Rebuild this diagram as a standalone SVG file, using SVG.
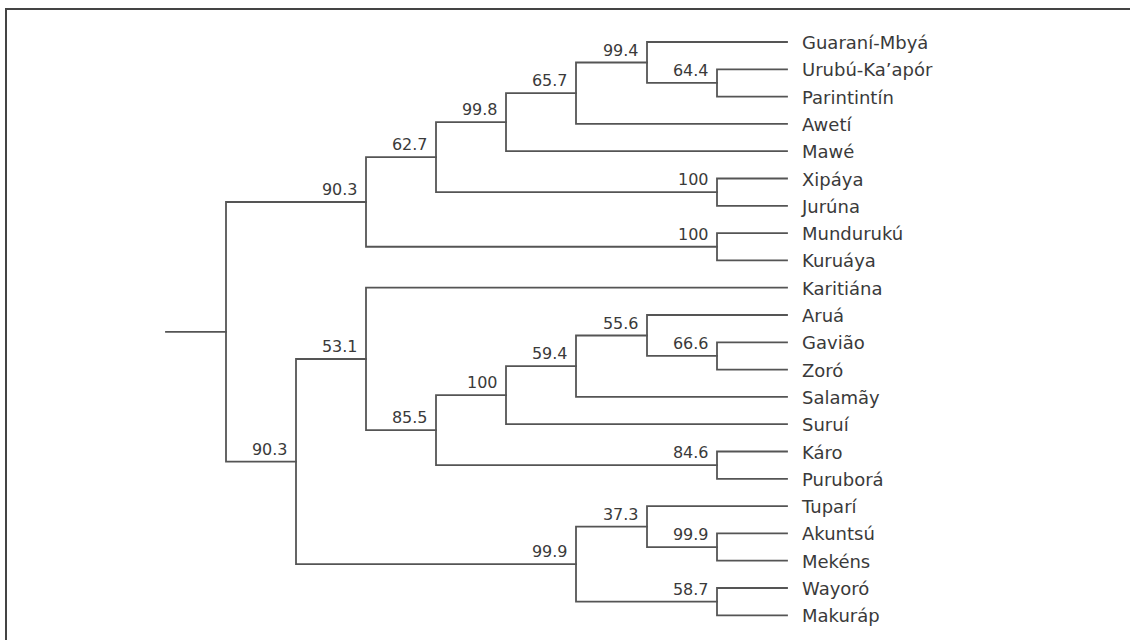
<svg xmlns="http://www.w3.org/2000/svg" width="1130" height="640" viewBox="0 0 1130 640">
<style>
.frame{fill:none;stroke:#444;stroke-width:2}
.br{fill:none;stroke:#555;stroke-width:1.8;stroke-linecap:square}
.lf{font-family:"DejaVu Sans",sans-serif;font-size:18px;fill:#3a3a3a}
.sv{font-family:"DejaVu Sans",sans-serif;font-size:16px;fill:#3a3a3a;text-anchor:end}
</style>
<rect width="1130" height="640" fill="#fff"/>
<path class="frame" d="M6,641 V9 H1131"/>
<g id="connectors">
<path class="br" d="M166,331.8 H226"/>
<path class="br" d="M366,202 H226 V461.55 H296"/>
<path class="br" d="M436,157.2 H366 V246.75 H717"/>
<path class="br" d="M506,122.2 H436 V192.15 H717"/>
<path class="br" d="M576,93.2 H506 V151.2 H787"/>
<path class="br" d="M647,62.5 H576 V123.9 H787"/>
<path class="br" d="M787,42 H647 V82.95 H717"/>
<path class="br" d="M787,69.3 H717 V96.6 H787"/>
<path class="br" d="M787,178.5 H717 V205.8 H787"/>
<path class="br" d="M787,233.1 H717 V260.4 H787"/>
<path class="br" d="M366,359 H296 V564.1 H576"/>
<path class="br" d="M787,287.7 H366 V430.2 H436"/>
<path class="br" d="M506,395.2 H436 V465.15 H717"/>
<path class="br" d="M576,366.2 H506 V424.2 H787"/>
<path class="br" d="M647,335.5 H576 V396.9 H787"/>
<path class="br" d="M787,315 H647 V355.95 H717"/>
<path class="br" d="M787,342.3 H717 V369.6 H787"/>
<path class="br" d="M787,451.5 H717 V478.8 H787"/>
<path class="br" d="M647,526.6 H576 V601.65 H717"/>
<path class="br" d="M787,506.1 H647 V547.05 H717"/>
<path class="br" d="M787,533.4 H717 V560.7 H787"/>
<path class="br" d="M787,588 H717 V615.3 H787"/>
</g>
<g id="n-upper"><text class="sv" x="357.5" y="195">90.3</text></g>
<g id="n-627"><text class="sv" x="427.5" y="150.2">62.7</text></g>
<g id="n-998"><text class="sv" x="497.5" y="115.2">99.8</text></g>
<g id="n-657"><text class="sv" x="567.5" y="86.2">65.7</text></g>
<g id="n-994"><text class="sv" x="638.5" y="55.5">99.4</text></g>
<g id="n-644"><text class="sv" x="708.5" y="75.9">64.4</text></g>
<g id="n-xip"><text class="sv" x="708.5" y="185.1">100</text></g>
<g id="n-mun"><text class="sv" x="708.5" y="239.7">100</text></g>
<g id="n-lower"><text class="sv" x="287.5" y="454.5">90.3</text></g>
<g id="n-531"><text class="sv" x="357.5" y="352">53.1</text></g>
<g id="n-855"><text class="sv" x="427.5" y="423.2">85.5</text></g>
<g id="n-100b"><text class="sv" x="497.5" y="388.2">100</text></g>
<g id="n-594"><text class="sv" x="567.5" y="359.2">59.4</text></g>
<g id="n-556"><text class="sv" x="638.5" y="328.5">55.6</text></g>
<g id="n-666"><text class="sv" x="708.5" y="348.9">66.6</text></g>
<g id="n-846"><text class="sv" x="708.5" y="458.1">84.6</text></g>
<g id="n-999a"><text class="sv" x="567.5" y="557.1">99.9</text></g>
<g id="n-373"><text class="sv" x="638.5" y="519.6">37.3</text></g>
<g id="n-999b"><text class="sv" x="708.5" y="540">99.9</text></g>
<g id="n-587"><text class="sv" x="708.5" y="594.6">58.7</text></g>
<g id="leaf-guarani"><text class="lf" x="802" y="49">Guaraní-Mbyá</text></g>
<g id="leaf-urubu"><text class="lf" x="802" y="76.3">Urubú-Ka’apór</text></g>
<g id="leaf-parintintin"><text class="lf" x="802" y="103.6">Parintintín</text></g>
<g id="leaf-aweti"><text class="lf" x="802" y="130.9">Awetí</text></g>
<g id="leaf-mawe"><text class="lf" x="802" y="158.2">Mawé</text></g>
<g id="leaf-xipaya"><text class="lf" x="802" y="185.5">Xipáya</text></g>
<g id="leaf-juruna"><text class="lf" x="802" y="212.8">Jurúna</text></g>
<g id="leaf-munduruku"><text class="lf" x="802" y="240.1">Mundurukú</text></g>
<g id="leaf-kuruaya"><text class="lf" x="802" y="267.4">Kuruáya</text></g>
<g id="leaf-karitiana"><text class="lf" x="802" y="294.7">Karitiána</text></g>
<g id="leaf-arua"><text class="lf" x="802" y="322">Aruá</text></g>
<g id="leaf-gaviao"><text class="lf" x="802" y="349.3">Gavião</text></g>
<g id="leaf-zoro"><text class="lf" x="802" y="376.6">Zoró</text></g>
<g id="leaf-salamay"><text class="lf" x="802" y="403.9">Salamãy</text></g>
<g id="leaf-surui"><text class="lf" x="802" y="431.2">Suruí</text></g>
<g id="leaf-karo"><text class="lf" x="802" y="458.5">Káro</text></g>
<g id="leaf-purubora"><text class="lf" x="802" y="485.8">Puruborá</text></g>
<g id="leaf-tupari"><text class="lf" x="802" y="513.1">Tuparí</text></g>
<g id="leaf-akuntsu"><text class="lf" x="802" y="540.4">Akuntsú</text></g>
<g id="leaf-mekens"><text class="lf" x="802" y="567.7">Mekéns</text></g>
<g id="leaf-wayoro"><text class="lf" x="802" y="595">Wayoró</text></g>
<g id="leaf-makurap"><text class="lf" x="802" y="622.3">Makuráp</text></g>
</svg>
